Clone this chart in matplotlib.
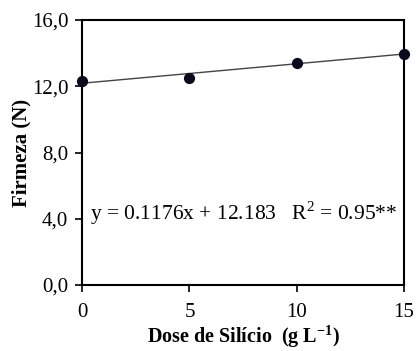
import matplotlib.pyplot as plt
import numpy as np

plt.rcParams['font.family'] = ['Liberation Serif', 'DejaVu Serif']
plt.rcParams['mathtext.fontset'] = 'custom'
plt.rcParams['mathtext.rm'] = 'Liberation Serif'
plt.rcParams['mathtext.bf'] = 'Liberation Serif:bold'

dose = [0, 5, 10, 15]
firmeza = [12.32, 12.52, 13.43, 13.93]
slope = 0.1176
intercept = 12.183
yticks = [0, 4, 8, 12, 16]
ytick_labels = ['0,0', '4,0', '8,0', '12,0', '16,0']
xticks = [0, 5, 10, 15]

fig = plt.figure(figsize=(4.17, 3.51), dpi=100)
ax = fig.add_axes([0.197, 0.188, 0.772, 0.755])

x_fit = np.array([dose[0], dose[-1]])
ax.plot(x_fit, slope * x_fit + intercept, color='#444444', linewidth=1.0, zorder=2)
ax.scatter(dose, firmeza, s=50, color='#0a0a1e', zorder=3, clip_on=False)

ax.text(0.35, 4.35, 'y = 0.1176x + 12.183   R$^2$ = 0.95**', fontsize=15.5, va='center')

ax.set_xlim(0, 15)
ax.set_ylim(0, 16)
ax.set_xticks(xticks)
ax.set_yticks(yticks)
ax.set_yticklabels(ytick_labels)
ax.tick_params(labelsize=15, direction='out', length=5, width=1.2, pad=5)
ax.tick_params(axis='x', pad=8)
for sp in ax.spines.values():
    sp.set_linewidth(1.5)

ax.set_ylabel('Firmeza (N)', fontsize=15, fontweight='bold', labelpad=0)
ax.set_xlabel('Dose de Silício  (g L$^{\\mathbf{-1}}$)', fontsize=14.5, fontweight='bold', labelpad=1)

plt.savefig('out.png', dpi=100)
